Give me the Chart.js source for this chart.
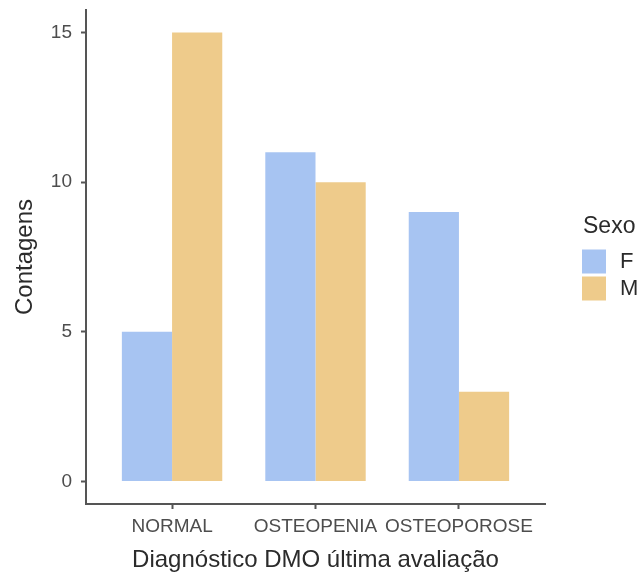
<!DOCTYPE html>
<html>
<head>
<meta charset="utf-8">
<script src="https://cdn.jsdelivr.net/npm/chart.js@4/dist/chart.umd.min.js"></script>
<style>
  html, body { margin: 0; padding: 0; background: #fff; }
  #wrap { width: 643px; height: 577px; }
</style>
</head>
<body>
<div id="wrap"><canvas id="grafico"></canvas></div>
<script>
// Dados
const categorias = ['NORMAL', 'OSTEOPENIA', 'OSTEOPOROSE'];
const sexos = ['F', 'M'];
const contagensF = [5, 11, 9];
const contagensM = [15, 10, 3];
const ticksY = [0, 5, 10, 15];
const posicoesX = [1, 2, 3];

const corF = '#a7c4f2';
const corM = '#eecb8b';
const corEixo = '#555555';
const corTexto = '#4d4d4d';
const corTitulo = '#2b2b2b';
const fonte = "'Liberation Sans', Arial, sans-serif";

// Legenda lateral estilo ggplot
const legendaLateral = {
    id: 'legendaLateral',
    afterDraw(chart) {
        const { ctx, chartArea } = chart;
        const x = chartArea.right + 37;
        const meio = (chartArea.top + chartArea.bottom) / 2;
        const topo = meio - 7.5;

        ctx.save();
        ctx.fillStyle = corTitulo;
        ctx.font = '23px ' + fonte;
        ctx.textBaseline = 'alphabetic';
        ctx.fillText('Sexo', x + 1, topo - 17);

        chart.data.datasets.forEach((ds, i) => {
            const y = topo + i * 27;
            ctx.fillStyle = ds.backgroundColor;
            ctx.fillRect(x, y, 24, 24);
            ctx.fillStyle = corTitulo;
            ctx.font = '22px ' + fonte;
            ctx.textBaseline = 'middle';
            ctx.fillText(ds.label, x + 38, y + 12);
        });
        ctx.restore();
    }
};

new Chart(document.getElementById('grafico'), {
    type: 'bar',
    data: {
        datasets: [
            {
                label: sexos[0],
                data: contagensF.map((y, i) => ({ x: posicoesX[i], y })),
                backgroundColor: corF,
                borderWidth: 0
            },
            {
                label: sexos[1],
                data: contagensM.map((y, i) => ({ x: posicoesX[i], y })),
                backgroundColor: corM,
                borderWidth: 0
            }
        ]
    },
    options: {
        responsive: true,
        maintainAspectRatio: false,
        animation: false,
        layout: { padding: { top: 10, right: 98, left: 0, bottom: 0 } },
        plugins: {
            legend: { display: false },
            tooltip: { enabled: false }
        },
        datasets: {
            bar: { categoryPercentage: 0.7, barPercentage: 1 }
        },
        scales: {
            x: {
                type: 'linear',
                min: 0.4,
                max: 3.6,
                offset: false,
                afterBuildTicks: (scale) => { scale.ticks = posicoesX.map(v => ({ value: v })); },
                afterFit: (scale) => {
                    scale.height = 73;
                    scale.paddingLeft = 0;
                    scale.paddingRight = 0;
                },
                ticks: {
                    autoSkip: false,
                    maxRotation: 0,
                    minRotation: 0,
                    padding: 6,
                    color: corTexto,
                    font: { family: fonte, size: 19 },
                    callback: (v) => categorias[v - 1]
                },
                grid: {
                    offset: false,
                    drawOnChartArea: false,
                    drawTicks: true,
                    tickLength: 5,
                    tickWidth: 2,
                    tickColor: corEixo
                },
                border: { display: true, color: corEixo, width: 2 },
                title: {
                    display: true,
                    text: 'Diagnóstico DMO última avaliação',
                    color: corTitulo,
                    font: { family: fonte, size: 24 },
                    padding: { top: 0, bottom: 2 }
                }
            },
            y: {
                min: -0.75,
                max: 15.75,
                afterBuildTicks: (scale) => { scale.ticks = ticksY.map(v => ({ value: v })); },
                afterFit: (scale) => {
                    scale.width = 86;
                    scale.paddingTop = 0;
                    scale.paddingBottom = 0;
                },
                ticks: {
                    padding: 9,
                    color: corTexto,
                    font: { family: fonte, size: 19 }
                },
                grid: {
                    drawOnChartArea: false,
                    drawTicks: true,
                    tickLength: 5,
                    tickWidth: 2,
                    tickColor: corEixo
                },
                border: { display: true, color: corEixo, width: 2 },
                title: {
                    display: true,
                    text: 'Contagens',
                    color: corTitulo,
                    font: { family: fonte, size: 24 },
                    padding: { top: 11, bottom: 0 }
                }
            }
        }
    },
    plugins: [legendaLateral]
});
</script>
</body>
</html>
